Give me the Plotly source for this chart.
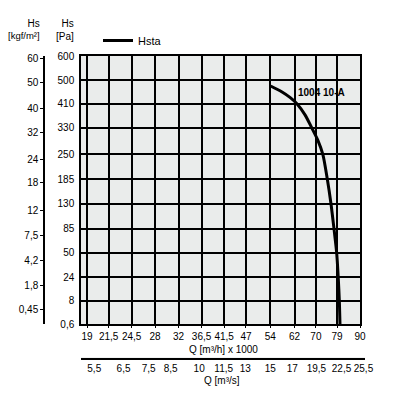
import math
import plotly.graph_objects as go

# ---- data ----
q_ticks = [19, 21.5, 24.5, 28, 32, 36.5, 41.5, 47, 54, 62, 70, 79, 90]          # Q [m3/h] x 1000
q_ticks_txt = ["19", "21,5", "24,5", "28", "32", "36,5", "41,5", "47", "54", "62", "70", "79", "90"]
qs_ticks = [5.5, 6.5, 7.5, 8.5, 10, 11.5, 13, 15, 17, 19.5, 22.5, 25.5]          # Q [m3/s]
qs_ticks_txt = ["5,5", "6,5", "7,5", "8,5", "10", "11,5", "13", "15", "17", "19,5", "22,5", "25,5"]
pa_ticks = [0.6, 8, 24, 50, 85, 130, 185, 250, 330, 410, 500, 600]              # Hs [Pa]
pa_ticks_txt = ["0,6", "8", "24", "50", "85", "130", "185", "250", "330", "410", "500", "600"]
kgf_ticks = [0.45, 1.8, 4.2, 7.5, 12, 18, 24, 32, 40, 50, 60]                   # Hs [kgf/m2]
kgf_ticks_txt = ["0,45", "1,8", "4,2", "7,5", "12", "18", "24", "32", "40", "50", "60"]

# Hsta curve, fan 1004 10-A
curve_q = [54.1, 57.6, 60.5, 62.9, 65.8, 68.3, 70.8, 72.8, 74.7, 76.3, 77.6, 78.8, 79.5, 80.0, 80.3]
curve_pa = [477, 455, 433, 410, 372, 330, 290, 250, 185, 130, 85, 50, 24, 8, 0.6]
series_name = "Hsta"
curve_label = "1004 10-A"

PA_PER_KGF = 9.81
M3S_TO_M3H1000 = 3.6

# ---- figure geometry (target pixels in the 395x397 window; page body has 8px margin) ----
OFF = 8
W, H = 395 - OFF, 397 - OFF
ML, MR, MT, MB = 44 - OFF, 30 - OFF, 56 - OFF, 39
pw = W - ML - MR
ph = H - MT - MB
def px_x(p):
    return (p - OFF - ML) / pw
def px_y(p):
    return (H - MB - (p - OFF)) / ph

x_left, x_right, x2_right = 81, 360, 365
PX_PER_DECADE = 404.2
xr0 = math.log10(19) - (87 - x_left) / PX_PER_DECADE
xr1 = math.log10(90)
x2r1 = xr1 + (x2_right - x_right) / PX_PER_DECADE

sq = lambda v: math.sqrt(v)
yr = [sq(min(pa_ticks)), sq(max(pa_ticks))]

FONT = "Liberation Sans, Arial, sans-serif"

fig = go.Figure()
fig.add_trace(go.Scatter(
    x=curve_q, y=[sq(v) for v in curve_pa], mode="lines", name=series_name,
    line=dict(color="black", width=3, shape="spline", smoothing=0.8),
    xaxis="x", yaxis="y", hoverinfo="skip",
))
fig.add_trace(go.Scatter(x=[], y=[], xaxis="x", yaxis="y2", showlegend=False, hoverinfo="skip"))
fig.add_trace(go.Scatter(x=[], y=[], xaxis="x2", yaxis="y3", showlegend=False, hoverinfo="skip"))

fig.update_layout(
    width=W, height=H,
    margin=dict(l=ML, r=MR, t=MT, b=MB, pad=0, autoexpand=False),
    paper_bgcolor="white",
    plot_bgcolor="#eaeceb",
    font=dict(family=FONT, size=10, color="black"),
    showlegend=True,
    legend=dict(x=px_x(98), y=px_y(26), xanchor="left", yanchor="top",
                bgcolor="rgba(0,0,0,0)", font=dict(size=11, family=FONT),
                itemwidth=30),
    xaxis=dict(
        type="log", range=[xr0, xr1], domain=[px_x(x_left), px_x(x_right)],
        tickmode="array", tickvals=q_ticks, ticktext=q_ticks_txt,
        showgrid=True, gridcolor="black", gridwidth=1.5,
        showline=True, linecolor="black", linewidth=1.5, mirror=True,
        ticks="outside", ticklen=2, tickcolor="black", tickwidth=1,
        tickfont=dict(size=10), zeroline=False, anchor="y", automargin=False,
    ),
    yaxis=dict(
        range=yr, domain=[px_y(324), 1],
        tickmode="array", tickvals=[sq(v) for v in pa_ticks], ticktext=pa_ticks_txt,
        showgrid=True, gridcolor="black", gridwidth=1.5,
        showline=True, linecolor="black", linewidth=1.5, mirror=True,
        ticks="outside", ticklen=3, tickcolor="rgba(0,0,0,0)",
        tickfont=dict(size=10), zeroline=False, anchor="x", automargin=False,
    ),
    yaxis2=dict(
        overlaying="y", anchor="free", position=0, side="left",
        range=yr, tickmode="array",
        tickvals=[sq(v * PA_PER_KGF) for v in kgf_ticks], ticktext=kgf_ticks_txt,
        showgrid=False, zeroline=False,
        showline=True, linecolor="black", linewidth=1.5,
        ticks="outside", ticklen=3, tickcolor="black", tickwidth=1,
        tickfont=dict(size=10), automargin=False,
    ),
    xaxis2=dict(
        type="log", range=[xr0, x2r1], domain=[px_x(x_left), px_x(x2_right)],
        anchor="y3", side="bottom",
        tickmode="array", tickvals=[v * M3S_TO_M3H1000 for v in qs_ticks], ticktext=qs_ticks_txt,
        showgrid=False, zeroline=False,
        showline=True, linecolor="black", linewidth=1.5,
        ticks="",
        tickfont=dict(size=10), automargin=False,
    ),
    yaxis3=dict(domain=[0, 0.002], anchor="x2", visible=False, range=[0, 1]),
    annotations=[
        dict(text="<span style='font-size:10px'>Hs</span><br>[kgf/m²]", x=px_x(42), y=px_y(16),
             xref="paper", yref="paper",
             xanchor="right", yanchor="top", align="right", showarrow=False, font=dict(size=9.5)),
        dict(text="Hs<br>[Pa]", x=px_x(76), y=px_y(16), xref="paper", yref="paper",
             xanchor="right", yanchor="top", align="right", showarrow=False, font=dict(size=10)),
        dict(text="Q [m³/h] x 1000", x=px_x(223), y=px_y(349), xref="paper", yref="paper",
             xanchor="center", yanchor="middle", showarrow=False, font=dict(size=10)),
        dict(text="Q [m³/s]", x=px_x(222), y=px_y(380), xref="paper", yref="paper",
             xanchor="center", yanchor="middle", showarrow=False, font=dict(size=10)),
        dict(text="<b>" + curve_label + "</b>", x=px_x(321), y=px_y(93), xref="paper", yref="paper",
             xanchor="center", yanchor="middle", showarrow=False, font=dict(size=10)),
    ],
)

fig.write_html("out.html")
